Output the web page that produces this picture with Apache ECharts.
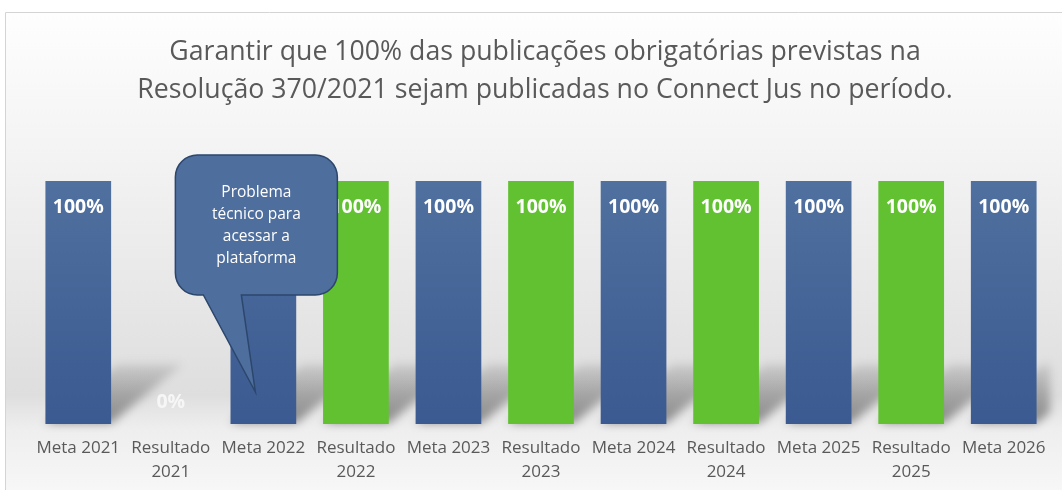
<!DOCTYPE html>
<html>
<head>
<meta charset="utf-8">
<script src="https://cdn.jsdelivr.net/npm/echarts@6/dist/echarts.min.js"></script>
<style>
  html, body { margin: 0; padding: 0; background: #ffffff; }
  #chart { width: 1062px; height: 490px; }
</style>
</head>
<body>
<div id="chart"></div>
<script>
// Categories and values (percent of mandatory publications)
const categories = [
  'Meta 2021', 'Resultado\n2021', 'Meta 2022', 'Resultado\n2022',
  'Meta 2023', 'Resultado\n2023', 'Meta 2024', 'Resultado\n2024',
  'Meta 2025', 'Resultado\n2025', 'Meta 2026'
];
const values = [100, 0, 100, 100, 100, 100, 100, 100, 100, 100, 100];
const kinds = ['meta', 'resultado', 'meta', 'resultado', 'meta', 'resultado',
               'meta', 'resultado', 'meta', 'resultado', 'meta'];
const titleLines = [
  'Garantir que 100% das publicações obrigatórias previstas na',
  'Resolução 370/2021 sejam publicadas no Connect Jus no período.'
];
const calloutText = ['Problema', 'técnico para', 'acessar a', 'plataforma'];
const calloutCategory = 'Meta 2022';

const blueFill = new echarts.graphic.LinearGradient(0, 0, 0, 1, [
  { offset: 0, color: '#50709f' },
  { offset: 1, color: '#3a5a91' }
]);
const greenFill = '#62c130';

const chart = echarts.init(document.getElementById('chart'), null, { renderer: 'canvas' });

const seriesData = values.map((v, i) => {
  const item = {
    value: v,
    itemStyle: { color: kinds[i] === 'meta' ? blueFill : greenFill }
  };
  if (v === 0) {
    item.label = { position: 'insideBottom', distance: 12, color: '#f6f6f6' };
  }
  return item;
});

chart.setOption({
  backgroundColor: '#ffffff',
  animation: false,
  title: {
    text: titleLines.join('\n'),
    left: 540,
    textAlign: 'center',
    top: 28,
    textStyle: {
      fontFamily: 'Open Sans',
      fontSize: 26.7,
      fontWeight: 'normal',
      color: '#595959',
      lineHeight: 38
    }
  },
  grid: { left: 32, right: 12, top: 181, bottom: 66, containLabel: false },
  xAxis: {
    type: 'category',
    data: categories,
    axisLine: { show: false },
    axisTick: { show: false },
    axisLabel: {
      interval: 0,
      margin: 12,
      fontFamily: 'Open Sans',
      fontSize: 17,
      color: '#595959',
      lineHeight: 24
    }
  },
  yAxis: {
    type: 'value',
    min: 0,
    max: 100,
    show: false,
    splitLine: { show: false }
  },
  series: [{
    type: 'bar',
    data: seriesData,
    barWidth: '71%',
    label: {
      show: true,
      position: 'insideTop',
      distance: 16,
      formatter: p => p.value + '%',
      fontFamily: 'Open Sans',
      fontWeight: 'bold',
      fontSize: 19.5,
      color: '#ffffff'
    },
    z: 3
  }]
});

// Rounded-corner outline helper: appends arc points around a corner
function arcPoints(cx, cy, r, a0, a1, out) {
  const n = 8;
  for (let k = 0; k <= n; k++) {
    const a = a0 + (a1 - a0) * k / n;
    out.push([cx + r * Math.cos(a), cy + r * Math.sin(a)]);
  }
}

// Clip a polygon to the half-plane x <= xMax
function clipRight(points, xMax) {
  const out = [];
  for (let k = 0; k < points.length; k++) {
    const a = points[k], b = points[(k + 1) % points.length];
    const aIn = a[0] <= xMax, bIn = b[0] <= xMax;
    if (aIn) out.push(a);
    if (aIn !== bIn) {
      const t = (xMax - a[0]) / (b[0] - a[0]);
      out.push([xMax, a[1] + t * (b[1] - a[1])]);
    }
  }
  return out;
}

function drawDecorations() {
  const W = chart.getWidth();
  const H = chart.getHeight();
  const graphics = [];

  // Panel background with soft vertical gradient
  graphics.push({
    type: 'rect',
    z: -10,
    silent: true,
    shape: { x: 5.5, y: 12.5, width: W - 5, height: H - 12 },
    style: {
      fill: new echarts.graphic.LinearGradient(0, 0, 0, 1, [
        { offset: 0, color: '#fefefe' },
        { offset: 0.25, color: '#f5f5f5' },
        { offset: 0.55, color: '#e9e9e9' },
        { offset: 0.8, color: '#dedede' },
        { offset: 0.87, color: '#eeeeee' },
        { offset: 1, color: '#f7f7f7' }
      ]),
      stroke: '#d4d4d4',
      lineWidth: 1
    }
  });

  // Soft perspective floor shadows cast by each bar (length follows the value).
  // The shape sits off-canvas; only its blurred canvas shadow is shifted back.
  const grid = chart.getModel().getComponent('grid').coordinateSystem.getRect();
  const gridRight = grid.x + grid.width;
  const base = chart.convertToPixel({ seriesIndex: 0 }, [0, 0]);
  const step = chart.convertToPixel({ seriesIndex: 0 }, [1, 0])[0] - base[0];
  const half = step * 0.355;
  const off = 3000;
  values.forEach((v, i) => {
    if (!v) return;
    const p = chart.convertToPixel({ seriesIndex: 0 }, [i, 0]);
    const len = 0.6 * v;
    const dx = 1.2 * len, dy = len;
    const x0 = p[0] - half, x1 = p[0] + half, y = p[1] - 1;
    let pts = [[x0, y], [x1, y], [x1 + dx, y - dy], [x0 + dx, y - dy]];
    pts = clipRight(pts, gridRight).map(q => [q[0] - off, q[1]]);
    graphics.push({
      type: 'polygon',
      z: -5,
      silent: true,
      shape: { points: pts },
      style: {
        fill: new echarts.graphic.LinearGradient(0, 1, 0, 0, [
          { offset: 0, color: 'rgba(0,0,0,0.95)' },
          { offset: 1, color: 'rgba(0,0,0,0.2)' }
        ]),
        shadowBlur: 10,
        shadowOffsetX: off,
        shadowColor: 'rgba(85,85,85,0.7)'
      }
    });
  });

  // Speech-bubble note attached to the target bar
  const idx = categories.indexOf(calloutCategory);
  const anchorTop = chart.convertToPixel({ seriesIndex: 0 }, [idx, 100]);
  const anchorBase = chart.convertToPixel({ seriesIndex: 0 }, [idx, 0]);
  const cx = anchorTop[0] - 7;
  const bx = cx - 81, by = anchorTop[1] - 26, bw = 162, bh = 140, r = 22;
  const tipX = anchorTop[0] - 8, tipY = anchorBase[1] - 32;
  const tailL = bx + 28, tailR = bx + 66, bot = by + bh;
  const pts = [];
  arcPoints(bx + r, by + r, r, Math.PI, Math.PI * 1.5, pts);            // top-left
  arcPoints(bx + bw - r, by + r, r, Math.PI * 1.5, Math.PI * 2, pts);   // top-right
  arcPoints(bx + bw - r, bot - r, r, 0, Math.PI * 0.5, pts);            // bottom-right
  pts.push([tailR, bot], [tipX, tipY], [tailL, bot]);                   // pointer
  arcPoints(bx + r, bot - r, r, Math.PI * 0.5, Math.PI, pts);           // bottom-left
  graphics.push({
    type: 'polygon',
    z: 100,
    silent: true,
    shape: { points: pts },
    style: { fill: '#4e6e9d', stroke: '#2c466c', lineWidth: 1.5 }
  });
  graphics.push({
    type: 'text',
    z: 101,
    silent: true,
    x: cx,
    y: by + 27,
    style: {
      text: calloutText.join('\n'),
      fill: '#ffffff',
      font: '15.5px "Open Sans"',
      lineHeight: 22,
      align: 'center',
      verticalAlign: 'top'
    }
  });

  chart.setOption({ graphic: { elements: graphics } });
}

drawDecorations();
</script>
</body>
</html>
